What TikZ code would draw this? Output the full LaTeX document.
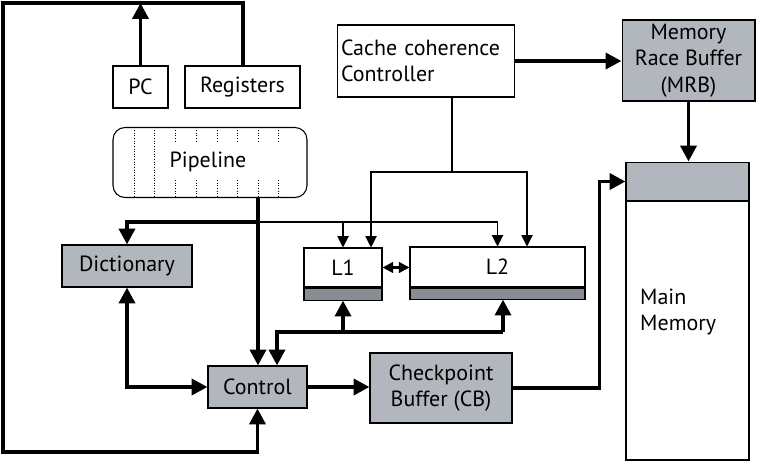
\documentclass[tikz,border=0pt]{standalone}
\usepackage{fontspec}
\setmainfont{PT Sans}
\usepackage{tikz}
\usetikzlibrary{arrows.meta,calc}

\definecolor{boxgray}{RGB}{178,183,190}
\definecolor{bargray}{RGB}{136,141,148}

\tikzset{
  blk/.style={draw,line width=0.6pt,inner sep=2pt,align=center,
    font=\fontsize{12.5}{15}\selectfont},
  grayblk/.style={blk,fill=boxgray},
  bus/.style={line width=2.2pt,-{Triangle[length=9pt,width=9pt]}},
  wire/.style={line width=0.6pt,-{Triangle[length=6.5pt,width=6.5pt]}},
}

\begin{document}
\begin{tikzpicture}[x=0.02cm,y=-0.02cm]
\useasboundingbox (0,0) rectangle (759,462);

\node[blk,minimum width=1.1cm,minimum height=0.84cm] (PC) at (140.5,87) {PC};
\node[blk,minimum width=2.3cm,minimum height=0.84cm] (Reg) at (242.5,87) {Registers};
\node[blk,rounded corners=0.24cm,minimum width=3.88cm,minimum height=1.4cm] (Pipe) at (210,162.5) {};
\foreach \x in {134,154}
  \draw[densely dotted,line width=0.5pt] (\x,127.5) -- (\x,197.5);
\foreach \x in {175,196,217,237,258,278} {
  \draw[densely dotted,line width=0.5pt] (\x,127.5) -- (\x,142);
  \draw[densely dotted,line width=0.5pt] (\x,180) -- (\x,197.5);
}
\node[font=\fontsize{12.5}{15}\selectfont] at (208,162) {Pipeline};

\node[blk,align=left,text width=3.4cm,minimum height=1.44cm] (CC) at (426,61) {Cache coherence\\Controller};
\node[grayblk,minimum width=2.66cm,minimum height=1.62cm] (MRB) at (688.5,60.5) {Memory\\Race Buffer\\(MRB)};

\node[blk,minimum width=2.46cm,minimum height=5.96cm] (MM) at (687.5,311) {};
\node[grayblk,minimum width=2.46cm,minimum height=0.78cm,anchor=north] (MMhead) at (MM.north) {};
\node[align=left,anchor=west,font=\fontsize{12.5}{15}\selectfont] (MMtext) at (634,312) {Main\\Memory};

\node[grayblk,minimum width=2.6cm,minimum height=0.84cm] (Dict) at (127,266) {Dictionary};
\node[blk,minimum width=1.56cm,minimum height=0.78cm] (L1) at (343,267.5) {L1};
\node[draw,line width=0.6pt,fill=bargray,minimum width=1.56cm,minimum height=0.24cm,inner sep=0pt,anchor=north] (L1bar) at (L1.south) {};
\node[blk,minimum width=3.5cm,minimum height=0.8cm] (L2) at (497.5,267) {L2};
\node[draw,line width=0.6pt,fill=bargray,minimum width=3.5cm,minimum height=0.22cm,inner sep=0pt,anchor=north] (L2bar) at (L2.south) {};

\node[grayblk,minimum width=1.98cm,minimum height=0.84cm] (Ctrl) at (257.5,387) {Control};
\node[grayblk,minimum width=2.84cm,minimum height=1.4cm] (CB) at (441,388) {Checkpoint\\Buffer (CB)};

% feedback loop
\coordinate (loopTR) at (243,3);
\coordinate (loopTL) at (3,3);
\coordinate (loopBL) at (3,452);
\draw[bus] (PC.north) -- (PC.north |- loopTR);
\draw[bus] (Reg.north -| loopTR) -- (loopTR) -- (loopTL) -- (loopBL) -| (Ctrl.south);

% pipeline outputs
\coordinate (pipeOut) at (258,197.5);
\coordinate (pipeJ) at (258,222);
\draw[bus] (pipeOut) -- (pipeOut |- Ctrl.north);
\draw[bus] (pipeJ) -| (Dict.north);
\draw[wire] (pipeJ) -| (L2.north);
\draw[wire] (L1.north |- pipeJ) -- (L1.north);

% coherence
\coordinate (ccOut) at (452,97);
\coordinate (ccJ) at (452,172);
\draw[line width=0.6pt] (ccOut) -- (ccJ);
\draw[wire] (ccJ) -| ($(L1.north)+(28,0)$);
\draw[wire] (ccJ) -| ($(L2.north)+(29.5,0)$);
\draw[bus] (CC.east) -- (CC.east -| MRB.west);
\draw[bus] (MRB.south) -- (MRB.south |- MM.north);

% caches
\draw[line width=1.2pt,{Triangle[length=6pt,width=6pt]}-{Triangle[length=6pt,width=6pt]}] (L1.east) -- (L1.east -| L2.west);
\coordinate (busL) at (277,332);
\coordinate (busR) at (503,332);
\draw[bus] (busR) -- (busR |- L2bar.south);
\draw[bus] (busR) -- (busL) -- (busL |- Ctrl.north);
\draw[bus] (L1bar.south |- busL) -- (L1bar.south);

% control
\draw[bus,{Triangle[length=9pt,width=9pt]}-{Triangle[length=9pt,width=9pt]}] (Dict.south) |- (Ctrl.west);
\draw[bus] (Ctrl.east) -- (Ctrl.east -| CB.west);
\draw[bus] (CB.east) -| ($(MMhead.west)+(-26,0)$) -- (MMhead.west);
\end{tikzpicture}
\end{document}
